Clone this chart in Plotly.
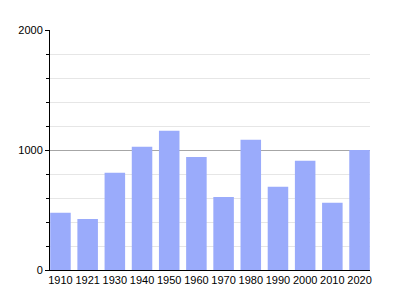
import plotly.graph_objects as go

years = ["1910", "1921", "1930", "1940", "1950", "1960", "1970", "1980", "1990", "2000", "2010", "2020"]
population = [477, 425, 811, 1028, 1161, 942, 608, 1086, 694, 911, 561, 1000]
y_ticks = [0, 1000, 2000]

fig = go.Figure(go.Bar(x=years, y=population, marker=dict(color="#9aabfb", line=dict(width=0))))

fig.update_layout(
    width=400, height=300,
    margin=dict(l=50, r=30, t=30, b=30),
    plot_bgcolor="white", paper_bgcolor="white",
    bargap=0.245,
    showlegend=False,
    font=dict(family="Liberation Sans, Arial, sans-serif", size=11, color="black"),
)
fig.update_xaxes(
    type="category", range=[-0.385, 11.385],
    showline=True, linecolor="black", linewidth=1,
    ticks="", showgrid=False, tickfont=dict(size=11),
)
fig.update_yaxes(
    range=[0, 2000], tickvals=y_ticks, ticktext=[str(v) for v in y_ticks],
    showline=True, linecolor="black", linewidth=1,
    ticks="outside", ticklen=4, tickcolor="black",
    showgrid=True, gridcolor="#a6a6a6", gridwidth=1,
    zeroline=False,
    minor=dict(dtick=200, showgrid=True, gridcolor="#e6e6e6", ticks="outside", ticklen=3, tickcolor="black"),
    tickfont=dict(size=11),
)

fig.write_html("out.html")
